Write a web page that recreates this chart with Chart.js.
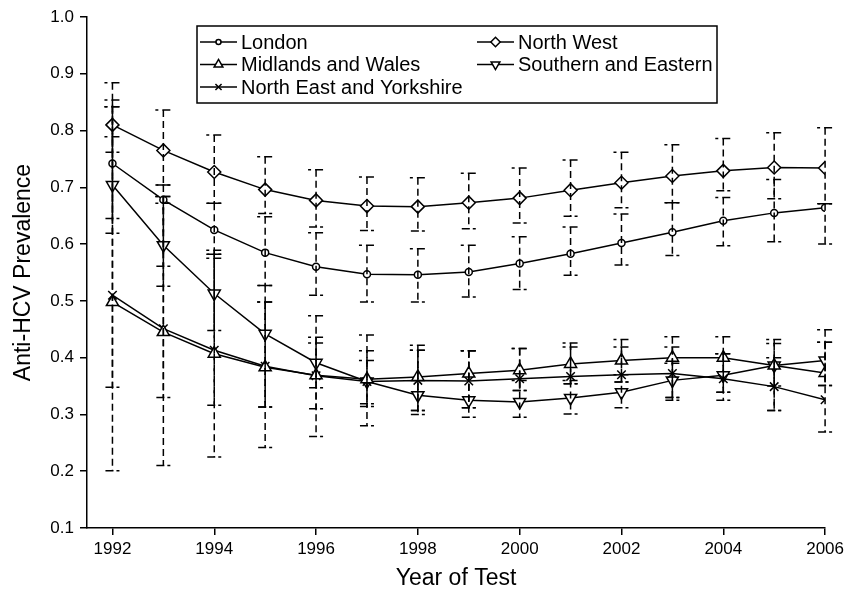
<!DOCTYPE html>
<html><head><meta charset="utf-8">
<script src="https://cdn.jsdelivr.net/npm/chart.js@4/dist/chart.umd.min.js"></script>
<style>html,body{margin:0;padding:0;background:#fff}#wrap{width:848px;height:592px;position:relative}</style>
</head><body><div id="wrap"><canvas id="c" width="848" height="592"></canvas></div>
<script>
const years = [1992,1993,1994,1995,1996,1997,1998,1999,2000,2001,2002,2003,2004,2005,2006];
const xTicks = [1992,1994,1996,1998,2000,2002,2004,2006];
const yTicks = [0.1,0.2,0.3,0.4,0.5,0.6,0.7,0.8,0.9,1.0];
const xTitle = 'Year of Test';
const yTitle = 'Anti-HCV Prevalence';

const londonName = 'London';
const london   = [0.742,0.678,0.625,0.585,0.560,0.547,0.546,0.551,0.566,0.583,0.602,0.621,0.641,0.655,0.664];
const londonLo = [0.645,0.561,0.582,0.527,0.510,0.498,0.498,0.507,0.520,0.545,0.563,0.580,0.597,0.604,0.600];
const londonHi = [0.854,0.684,0.672,0.648,0.620,0.598,0.592,0.598,0.613,0.630,0.653,0.673,0.682,0.714,0.671];

const midName = 'Midlands and Wales';
const mid   = [0.498,0.445,0.407,0.383,0.369,0.362,0.366,0.372,0.378,0.389,0.395,0.400,0.400,0.386,0.373];
const midLo = [0.201,0.210,0.225,0.242,0.261,0.319,0.307,0.312,0.342,0.354,0.357,0.330,0.339,0.350,0.351];
const midHi = [0.842,0.704,0.575,0.498,0.436,0.412,0.422,0.412,0.416,0.426,0.432,0.437,0.437,0.432,0.427];

const neName = 'North East and Yorkshire';
const ne   = [0.510,0.451,0.413,0.385,0.368,0.358,0.360,0.359,0.363,0.367,0.370,0.372,0.363,0.349,0.326];
const neLo = [0.348,0.330,0.316,0.313,0.347,0.314,0.307,0.312,0.342,0.354,0.357,0.330,0.325,0.307,0.269];
const neHi = [0.842,0.684,0.582,0.498,0.426,0.395,0.413,0.412,0.416,0.419,0.419,0.419,0.407,0.400,0.427];

const nwName = 'North West';
const nw   = [0.810,0.765,0.727,0.696,0.677,0.667,0.666,0.673,0.681,0.695,0.708,0.720,0.729,0.735,0.734];
const nwLo = [0.762,0.704,0.672,0.654,0.630,0.624,0.623,0.627,0.637,0.649,0.664,0.673,0.694,0.680,0.671];
const nwHi = [0.884,0.836,0.792,0.754,0.731,0.718,0.717,0.725,0.734,0.748,0.762,0.775,0.786,0.796,0.805];

const seName = 'Southern and Eastern';
const se   = [0.704,0.598,0.513,0.442,0.391,0.358,0.334,0.325,0.322,0.329,0.339,0.360,0.369,0.386,0.395];
const seLo = [0.619,0.526,0.448,0.313,0.310,0.280,0.300,0.295,0.295,0.301,0.312,0.325,0.339,0.307,0.351];
const seHi = [0.789,0.672,0.589,0.527,0.474,0.440,0.413,0.412,0.360,0.360,0.370,0.390,0.407,0.425,0.449];

const FONT = '"Liberation Sans", Arial, Helvetica, sans-serif';

function mk(label, vals, lo, hi, style, radius, rotation, legendPos) {
  return {
    label, data: years.map((yr, i) => ({x: yr, y: vals[i]})),
    lo, hi, legendPos,
    borderColor: '#000', borderWidth: 1.5, tension: 0, fill: false,
    pointStyle: style, pointRadius: radius, pointRotation: rotation,
    pointBackgroundColor: '#fff', pointBorderColor: '#000', pointBorderWidth: 1.5,
    pointHoverRadius: radius
  };
}

const datasets = [
  mk(londonName, london, londonLo, londonHi, 'circle', 3.5, 0, [0,0]),
  mk(midName, mid, midLo, midHi, 'triangle', 7, 0, [0,1]),
  mk(neName, ne, neLo, neHi, 'crossRot', 6, 0, [0,2]),
  mk(nwName, nw, nwLo, nwHi, 'rectRot', 6.5, 0, [1,0]),
  mk(seName, se, seLo, seHi, 'triangle', 7, 180, [1,1])
];

const errorBars = {
  id: 'errorBars',
  afterDatasetsDraw(chart) {
    const {ctx} = chart; const xs = chart.scales.x, ys = chart.scales.y;
    ctx.save();
    ctx.strokeStyle = '#000'; ctx.lineWidth = 1.5; ctx.lineCap = 'butt';
    chart.data.datasets.forEach(ds => {
      years.forEach((yr, j) => {
        const px = xs.getPixelForValue(yr);
        const yl = ys.getPixelForValue(ds.lo[j]);
        const yh = ys.getPixelForValue(ds.hi[j]);
        ctx.setLineDash([7,4]);
        ctx.beginPath(); ctx.moveTo(px, yh); ctx.lineTo(px, yl); ctx.stroke();
        ctx.setLineDash([]);
        ctx.beginPath();
        ctx.moveTo(px-8, yh); ctx.lineTo(px-5, yh);
        ctx.moveTo(px-1, yh); ctx.lineTo(px+7, yh);
        ctx.moveTo(px-7, yl); ctx.lineTo(px+1, yl);
        ctx.moveTo(px+4, yl); ctx.lineTo(px+7, yl);
        ctx.stroke();
      });
    });
    ctx.restore();
  }
};

const boxLegend = {
  id: 'boxLegend',
  afterDraw(chart) {
    const {ctx} = chart;
    ctx.save();
    ctx.strokeStyle = '#000'; ctx.lineWidth = 1.5;
    ctx.fillStyle = '#fff';
    ctx.fillRect(197, 26, 520, 77);
    ctx.strokeRect(197, 26, 520, 77);
    const colX = [200, 477], rowY = [42, 64.5, 87];
    ctx.font = '20px ' + FONT; ctx.textBaseline = 'middle'; ctx.textAlign = 'left';
    chart.data.datasets.forEach(ds => {
      const [c, r] = ds.legendPos;
      const x0 = colX[c], y0 = rowY[r];
      ctx.strokeStyle = '#000'; ctx.lineWidth = 1.5;
      ctx.beginPath(); ctx.moveTo(x0, y0); ctx.lineTo(x0 + 37, y0); ctx.stroke();
      ctx.fillStyle = '#fff';
      Chart.helpers.drawPoint(ctx, {pointStyle: ds.pointStyle, rotation: ds.pointRotation,
        radius: ds.pointRadius * 0.72, borderWidth: 1.3}, x0 + 18.5, y0);
      ctx.fillStyle = '#000';
      ctx.fillText(ds.label, x0 + 41, y0 + 1);
    });
    ctx.restore();
  }
};

new Chart(document.getElementById('c'), {
  type: 'line',
  data: { datasets },
  plugins: [errorBars, boxLegend],
  options: {
    responsive: false, animation: false, devicePixelRatio: 1,
    layout: { padding: { left: 0, right: 22, top: 17, bottom: 0 } },
    plugins: { legend: { display: false }, tooltip: { enabled: false } },
    scales: {
      x: {
        type: 'linear', min: 1991.5, max: 2006,
        afterBuildTicks: s => { s.ticks = xTicks.map(v => ({value: v})); },
        afterFit: s => { s.height = 64; },
        ticks: { autoSkip: false, maxRotation: 0, color: '#000', padding: 4,
          font: { family: FONT, size: 17 }, callback: v => String(v) },
        grid: { drawOnChartArea: false, drawTicks: true, tickLength: 7, color: '#000', lineWidth: 1.5 },
        border: { display: true, color: '#000', width: 1.5 },
        title: { display: true, text: xTitle, color: '#000', font: { family: FONT, size: 23 }, padding: { top: 0, bottom: 0 } }
      },
      y: {
        type: 'linear', min: 0.1, max: 1.0,
        afterBuildTicks: s => { s.ticks = yTicks.map(v => ({value: v})); },
        afterFit: s => { s.width = 87; },
        ticks: { color: '#000', padding: 6, font: { family: FONT, size: 17 }, callback: v => v.toFixed(1) },
        grid: { drawOnChartArea: false, drawTicks: true, tickLength: 7, color: '#000', lineWidth: 1.5 },
        border: { display: true, color: '#000', width: 1.5 },
        title: { display: true, text: yTitle, color: '#000', font: { family: FONT, size: 23 }, padding: { top: 10, bottom: 10 } }
      }
    }
  }
});
</script>
</body></html>
